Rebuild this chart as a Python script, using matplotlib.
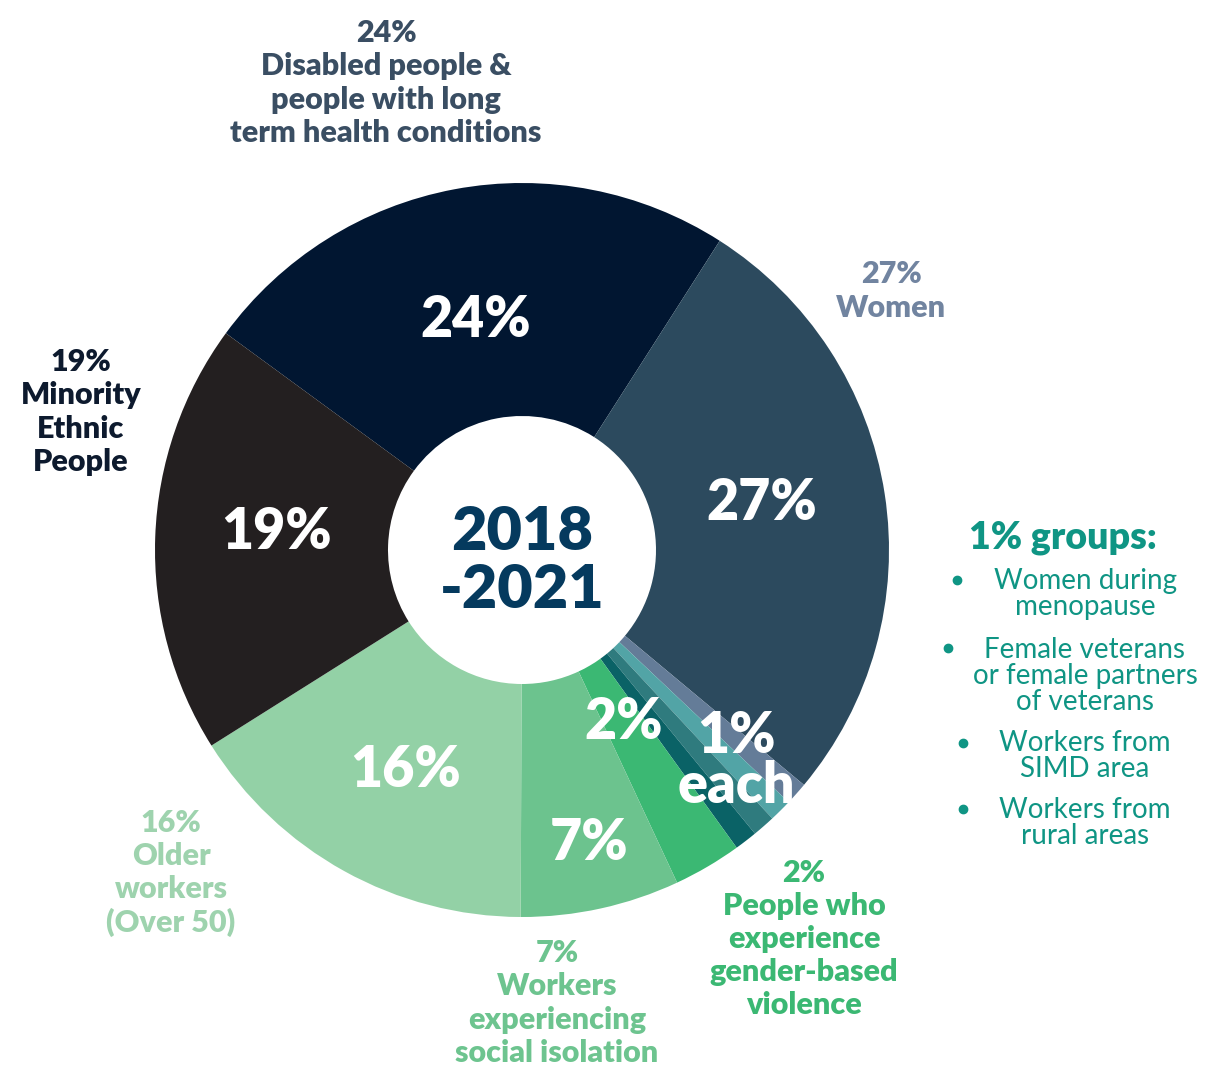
import matplotlib.pyplot as plt

# slices, clockwise from the top-left boundary (angles)
groups = ["Disabled people & people with long term health conditions", "Women",
          "Women during menopause", "Female veterans or partners", "Workers from SIMD area",
          "Workers from rural areas", "Gender-based violence", "Social isolation",
          "Older workers", "Minority Ethnic People"]
shares = [24, 27, 1, 1, 1, 1, 3, 7, 16, 19]
colors = ["#011631", "#2c4a5e", "#647c98", "#52a4a6", "#2f7b7e", "#0a6266",
          "#3bb873", "#6cc38e", "#93d1a6", "#231f20"]

inner_labels = ["24%", "27%", "19%", "16%", "7%", "2%", "1%\neach"]
one_pct_items = ["Women during\nmenopause", "Female veterans\nor female partners\nof veterans",
                 "Workers from\nSIMD area", "Workers from\nrural areas"]

W, H = 1205, 1066
fig = plt.figure(figsize=(W / 100, H / 100), dpi=100)
ax = fig.add_axes([0, 0, 1, 1])
ax.set_aspect("equal")
ax.axis("off")

cx, cy, r_out, r_in = 522, H - 550, 367, 134
ax.pie(shares, colors=colors, center=(cx, cy), radius=r_out, startangle=143.8,
       counterclock=False, wedgeprops=dict(width=r_out - r_in, linewidth=0))
ax.set_xlim(0, W)
ax.set_ylim(0, H)

FONT = "Lato"


def txt(x, y, s, size, color, weight="heavy", ls=1.22):
    ax.text(x, H - y, s, ha="center", va="center", fontsize=size, color=color,
            fontweight=weight, family=FONT, linespacing=ls)


# center
txt(522, 561, "2018\n-2021", 44, "#053a5e", ls=1.05)

# inner percentages
pos_inner = [(476, 320), (762, 503), (277, 532), (406, 770), (589, 843), (624, 722), (736, 761)]
for (x, y), s in zip(pos_inner, inner_labels):
    txt(x, y, s, 40, "white", ls=0.95)

# outer labels
txt(386, 83, "24%\nDisabled people &\npeople with long\nterm health conditions", 22, "#3a4e63")
txt(891, 291, "27%\nWomen", 22, "#7184a0")
txt(81, 412, "19%\nMinority\nEthnic\nPeople", 22, "#0d1a2e")
txt(171, 873, "16%\nOlder\nworkers\n(Over 50)", 22, "#9ed3ae")
txt(557, 1003, "7%\nWorkers\nexperiencing\nsocial isolation", 22, "#6dc48f")
txt(804, 939, "2%\nPeople who\nexperience\ngender-based\nviolence", 22, "#3bb873")

# 1% groups list
teal = "#0f9584"
txt(1063, 538, "1% groups:", 27, teal)
item_y = [594, 676, 756, 823]
bullet_x = [957, 948, 963, 963]
for y, s in zip(item_y, one_pct_items):
    txt(1085, y, s, 20, teal, weight="normal", ls=1.0)
first_line_y = [580, 648, 743, 809]
for y, bx in zip(first_line_y, bullet_x):
    ax.plot(bx, H - y, "o", color=teal, markersize=6)

fig.savefig("out.png", dpi=100)
